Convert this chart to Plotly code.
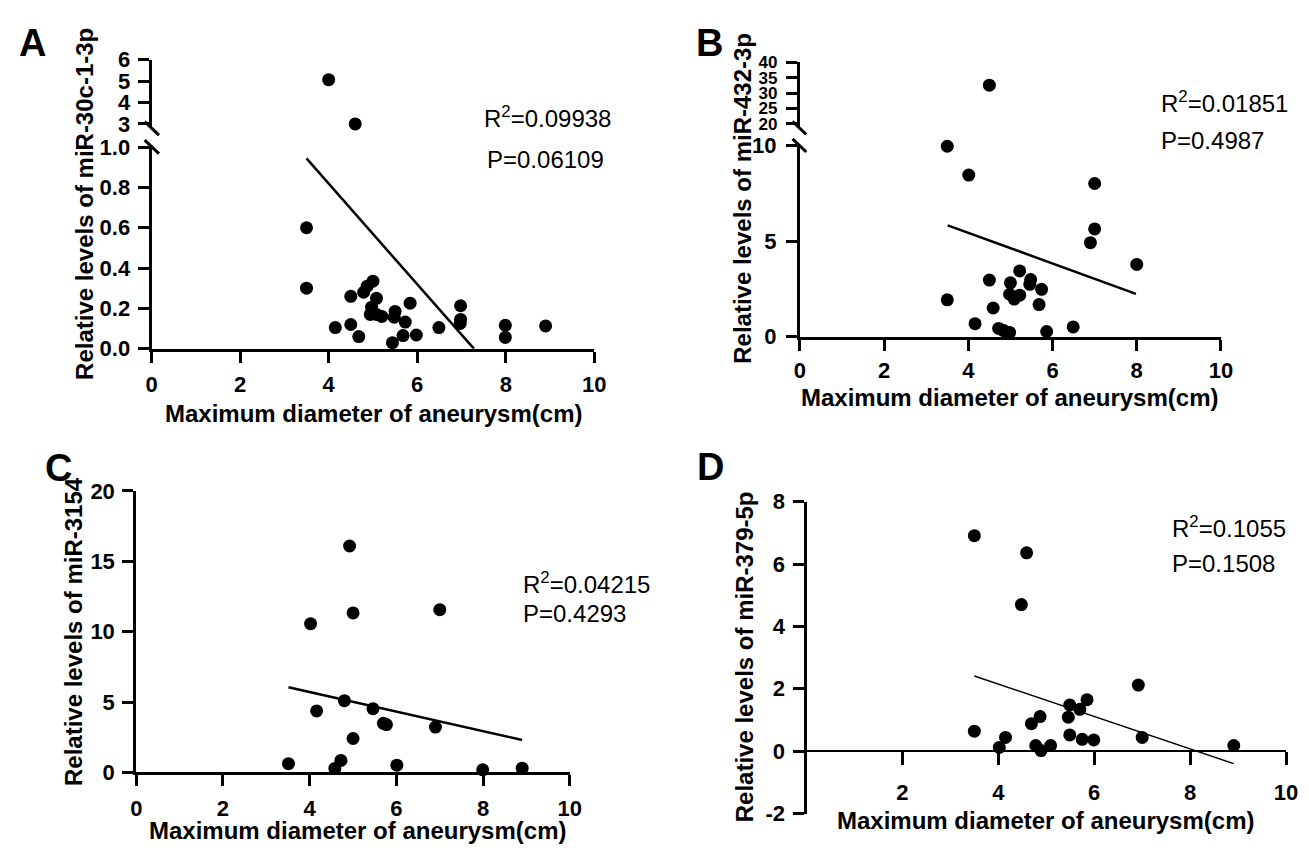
import plotly.graph_objects as go

# ---------------- data ----------------
# Panel A: miR-30c-1-3p (broken y axis)
a_x = [3.5, 3.5, 4.5, 4.15, 4.5, 4.68, 4.79, 4.87, 5.0, 5.08, 4.97, 4.94, 5.08, 5.2, 5.5,
       5.48, 5.73, 5.44, 5.68, 5.84, 5.98, 6.49, 6.98, 6.98, 6.97, 7.99, 7.99, 8.9]
a_y = [0.60, 0.30, 0.26, 0.105, 0.12, 0.06, 0.28, 0.31, 0.335, 0.25, 0.206, 0.17, 0.17, 0.16, 0.185,
       0.156, 0.132, 0.03, 0.065, 0.226, 0.068, 0.105, 0.213, 0.145, 0.125, 0.116, 0.056, 0.113]
a_hi_x = [4.0, 4.6]
a_hi_y = [5.07, 3.0]
a_fit_x = [3.5, 7.28]
a_fit_y = [0.944, 0.0]

# Panel B: miR-432-3p (broken y axis)
b_x = [3.5, 4.01, 7.0, 7.0, 6.9, 8.0, 3.5, 4.5, 5.22, 5.0, 5.48, 5.46, 5.74, 4.98, 5.22,
       5.09, 5.68, 4.59, 4.16, 4.72, 4.84, 4.98, 5.86, 6.49]
b_y = [9.97, 8.46, 8.02, 5.64, 4.92, 3.78, 1.93, 2.96, 3.44, 2.82, 2.99, 2.74, 2.48, 2.22, 2.17,
       1.97, 1.68, 1.50, 0.68, 0.43, 0.32, 0.22, 0.27, 0.51]
b_hi_x = [4.5]
b_hi_y = [32.6]
b_fit_x = [3.51, 7.98]
b_fit_y = [5.83, 2.24]

# Panel C: miR-3154
c_x = [4.92, 4.02, 5.0, 7.0, 4.8, 4.16, 5.46, 5.7, 5.77, 6.9, 5.0, 3.51, 4.72, 4.58, 6.01, 7.99, 8.9]
c_y = [16.09, 10.57, 11.33, 11.56, 5.10, 4.37, 4.53, 3.49, 3.40, 3.22, 2.41, 0.62, 0.85, 0.28, 0.51, 0.18, 0.30]
c_fit_x = [3.51, 8.9]
c_fit_y = [6.05, 2.30]

# Panel D: miR-379-5p
d_x = [3.5, 4.59, 4.48, 6.92, 3.5, 4.15, 4.02, 4.69, 4.87, 4.78, 4.89, 5.09, 5.49, 5.46, 5.7,
       5.85, 5.49, 5.75, 5.99, 7.0, 8.91]
d_y = [6.91, 6.36, 4.70, 2.12, 0.64, 0.44, 0.12, 0.88, 1.11, 0.18, 0.02, 0.18, 1.48, 1.09, 1.34,
       1.65, 0.52, 0.38, 0.36, 0.44, 0.18]
d_fit_x = [3.5, 8.91]
d_fit_y = [2.41, -0.40]

x_title = "Maximum diameter of aneurysm(cm)"
y_titles = ["Relative levels of miR-30c-1-3p", "Relative levels of miR-432-3p",
            "Relative levels of miR-3154", "Relative levels of miR-379-5p"]
stats = [("R<sup>2</sup>=0.09938", "P=0.06109"), ("R<sup>2</sup>=0.01851", "P=0.4987"),
         ("R<sup>2</sup>=0.04215", "P=0.4293"), ("R<sup>2</sup>=0.1055", "P=0.1508")]
letters = ["A", "B", "C", "D"]

a_lo_ticks = [0.0, 0.2, 0.4, 0.6, 0.8, 1.0]
a_hi_ticks = [3, 4, 5, 6]
b_lo_ticks = [0, 5, 10]
b_hi_ticks = [20, 25, 30, 35, 40]
c_ticks = [0, 5, 10, 15, 20]
d_ticks = [-2, 0, 2, 4, 6, 8]
d_tick_labels = ["-2", "0", "2", "4", "6", "8"]
x_ticks = [0, 2, 4, 6, 8, 10]
d_x_ticks = [2, 4, 6, 8, 10]

# ---------------- layout helpers ----------------
# the page body has an 8px default margin, so the figure is sized to fit inside it
PAGE_W, PAGE_H = 1309, 862
OFF = 8
W, H = PAGE_W - 2 * OFF, PAGE_H - 2 * OFF
FONT = "Liberation Sans, Arial, sans-serif"


def px_x(p):
    return (p - OFF) / W


def px_y(p):
    return 1 - (p - OFF) / H


MSIZE = 13
fig = go.Figure()


def scatter(x, y, xa, ya):
    fig.add_trace(go.Scatter(x=x, y=y, mode="markers", xaxis=xa, yaxis=ya,
                             marker=dict(color="black", size=MSIZE), cliponaxis=False,
                             showlegend=False))


def fit(x, y, xa, ya, w=2.5):
    fig.add_trace(go.Scatter(x=x, y=y, mode="lines", xaxis=xa, yaxis=ya,
                             line=dict(color="black", width=w), cliponaxis=False,
                             showlegend=False))


scatter(a_x, a_y, "x", "y")
fit(a_fit_x, a_fit_y, "x", "y")
scatter(a_hi_x, a_hi_y, "x2", "y2")
scatter(b_x, b_y, "x3", "y3")
fit(b_fit_x, b_fit_y, "x3", "y3")
scatter(b_hi_x, b_hi_y, "x4", "y4")
scatter(c_x, c_y, "x5", "y5")
fit(c_fit_x, c_fit_y, "x5", "y5")
scatter(d_x, d_y, "x6", "y6")
fit(d_fit_x, d_fit_y, "x6", "y6", w=1.5)

tickfont = dict(family=FONT, size=22, color="black", weight="bold")
small_tickfont = dict(family=FONT, size=17, color="black", weight="bold")
common = dict(showgrid=False, zeroline=False, showline=True, linecolor="black", linewidth=3,
              ticks="outside", ticklen=11, tickwidth=3, tickcolor="black", tickfont=tickfont)

xdomA = [px_x(147.5), px_x(596.5)]
xdomB = [px_x(805), px_x(1232)]
xdomC = [px_x(132), px_x(571.7)]
xdomD = [px_x(811.7), px_x(1298)]

fig.update_layout(
    width=W, height=H, margin=dict(l=0, r=0, t=0, b=0),
    paper_bgcolor="white", plot_bgcolor="white", showlegend=False,
    # Panel A lower
    xaxis=dict(common, domain=xdomA, range=[0, 10], tickvals=x_ticks, anchor="y",
               ticklabelstandoff=3),
    yaxis=dict(common, domain=[px_y(346.7), px_y(139)], range=[0, 1.0], tickvals=a_lo_ticks,
               tickformat=".1f", anchor="x", ticklabelstandoff=3),
    # Panel A upper
    xaxis2=dict(domain=xdomA, range=[0, 10], visible=False, anchor="y2"),
    yaxis2=dict(common, domain=[px_y(119.5), px_y(49)], range=[2.8, 6], tickvals=a_hi_ticks,
                anchor="x2", ticklabelstandoff=3),
    # Panel B lower
    xaxis3=dict(common, domain=xdomB, range=[0, 10], tickvals=x_ticks, anchor="y3",
                ticklabelstandoff=1),
    yaxis3=dict(common, domain=[px_y(334.3), px_y(137.5)], range=[0, 10], tickvals=b_lo_ticks,
                anchor="x3", ticklabelstandoff=5),
    # Panel B upper
    xaxis4=dict(domain=xdomB, range=[0, 10], visible=False, anchor="y4"),
    yaxis4=dict(common, domain=[px_y(119.1), px_y(51.7)], range=[18.7, 40], tickvals=b_hi_ticks,
                anchor="x4", ticklabelstandoff=5, tickfont=small_tickfont),
    # Panel C
    xaxis5=dict(common, domain=xdomC, range=[0, 10], tickvals=x_ticks, anchor="y5",
                ticklabelstandoff=3),
    yaxis5=dict(common, domain=[px_y(783.3), px_y(493.3)], range=[0, 20], tickvals=c_ticks,
                anchor="x5", ticklabelstandoff=3),
    # Panel D
    xaxis6=dict(common, domain=xdomD, range=[0, 10], tickvals=d_x_ticks, anchor="free",
                position=px_y(761.7), ticklabelstandoff=8, linewidth=2, ticklen=13),
    yaxis6=dict(common, domain=[px_y(825.7), px_y(504.3)], range=[-2, 8], tickvals=d_ticks,
                ticktext=d_tick_labels, anchor="x6", ticklabelstandoff=3),
)

# ---------------- axis break marks ----------------
for (x0, y0, x1, y1) in [(140.5, 112.7, 155, 126.7), (140.5, 131.7, 155, 145.7),
                         (797.5, 112.5, 811.5, 126), (797.5, 130.5, 811.5, 144)]:
    fig.add_shape(type="line", xref="paper", yref="paper",
                  x0=px_x(x0), y0=px_y(y0), x1=px_x(x1), y1=px_y(y1),
                  line=dict(color="black", width=3))

# ---------------- titles and text ----------------
title_font = dict(family=FONT, size=24, color="black", weight="bold")
xt_pos = [(372.5, 413), (1017.5, 396.7), (356.5, 843), (1054.5, 833)]
yt_pos = [(80, 197.5), (746.5, 192), (69, 638.5), (749, 664)]
for (cx, cy) in xt_pos:
    fig.add_annotation(text=x_title, xref="paper", yref="paper", x=px_x(cx), y=px_y(cy),
                       showarrow=False, font=title_font, xanchor="center", yanchor="middle")
for (cx, cy), t in zip(yt_pos, y_titles):
    fig.add_annotation(text=t, xref="paper", yref="paper", x=px_x(cx), y=px_y(cy), textangle=-90,
                       showarrow=False, font=title_font, xanchor="center", yanchor="middle")

stat_font = dict(family=FONT, size=24, color="black")
stat_pos = [((483, 108), (486, 152)), ((1169, 92), (1169, 132)),
            ((522, 588), (522, 620)), ((1180, 530), (1180, 568))]
for (p1, p2), (s1, s2) in zip(stat_pos, stats):
    fig.add_annotation(text=s1, xref="paper", yref="paper", x=px_x(p1[0]), y=px_y(p1[1]),
                       showarrow=False, font=stat_font, xanchor="left", yanchor="middle")
    fig.add_annotation(text=s2, xref="paper", yref="paper", x=px_x(p2[0]), y=px_y(p2[1]),
                       showarrow=False, font=stat_font, xanchor="left", yanchor="middle")

letter_font = dict(family=FONT, size=38, color="black", weight="bold")
letter_pos = [(27, 32), (713.5, 32), (53, 470), (714, 469)]
for (cx, cy), L in zip(letter_pos, letters):
    fig.add_annotation(text=L, xref="paper", yref="paper", x=px_x(cx), y=px_y(cy),
                       showarrow=False, font=letter_font, xanchor="center", yanchor="middle")

fig.write_html("out.html")
